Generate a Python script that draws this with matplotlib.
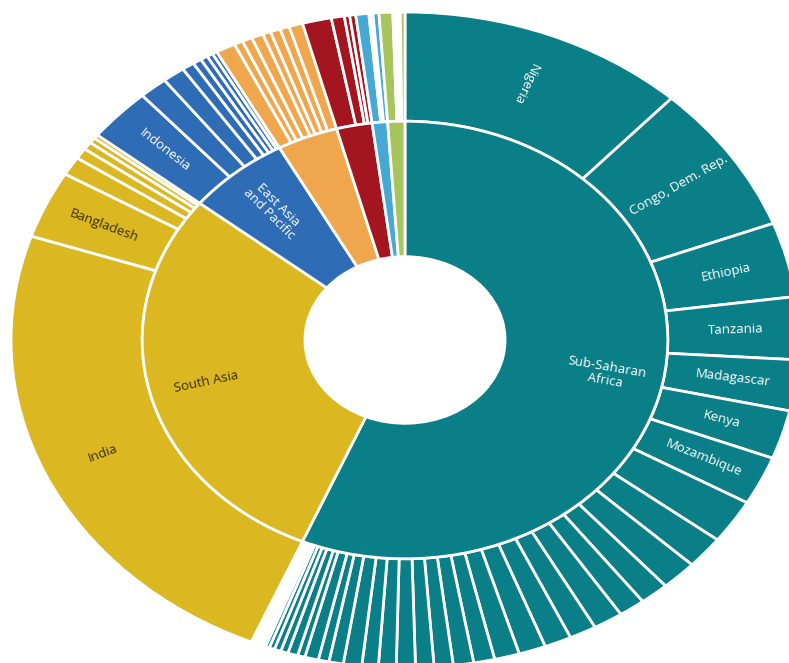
import numpy as np
import matplotlib.pyplot as plt

plt.rcParams['font.family'] = ['Open Sans', 'DejaVu Sans']

# Inner ring: regions, clockwise from 12 o'clock
region_names = ["Sub-Saharan\nAfrica", "South Asia", "East Asia\nand Pacific",
                "Latin America\nand Caribbean", "Middle East\nand North Africa",
                "Europe and\nCentral Asia", "Rest of\nthe world"]
region_colors = ["#0b7f87", "#dbb722", "#2e6cb5", "#f0a64c", "#a3151f", "#46a9d4", "#a7c55c"]
region_text_colors = ["white", "#3a2e08", "white", "white", "white", "white", "white"]
region_show_label = [True, True, True, False, False, False, False]

# Outer ring: countries (millions of extreme poor)
ssa_labels = ["Nigeria", "Congo, Dem. Rep.", "Ethiopia", "Tanzania", "Madagascar",
              "Kenya", "Mozambique"]
ssa_values = [86.3, 54.0, 26.8, 22.5, 18.3, 17.5, 17.5, 15.8, 11.6, 10.8, 8.7, 7.9,
              8.9, 8.1, 8.1, 8.1, 7.5, 6.3, 6.1, 5.7, 5.5, 5.7, 5.3, 4.9, 5.5, 4.3,
              3.2, 4.1, 2.2, 3.0, 2.2, 2.0, 1.6, 1.2, 0.9, 0.8, 0.7, 0.6, 0.5, 0.4,
              0.3, 0.2, 0.1]
sa_labels = ["India", "Bangladesh"]
sa_values = [173.4, 24.2, 6.7, 3.9, 2.8, 2.0, 1.4]
eap_labels = ["Indonesia"]
eap_values = [19.3, 8.5, 6.7, 3.7, 2.6, 2.2, 1.8, 1.4]
lac_values = [5.9, 2.6, 3.0, 3.5, 2.4, 3.0, 2.8, 4.1]
mena_values = [8.7, 3.9, 1.6, 1.8]
eca_values = [3.9, 0.6, 0.6, 1.8]
other_values = [4.1, 0.8, 0.7, 0.7, 1.4]

country_values = [ssa_values, sa_values, eap_values, lac_values, mena_values,
                  eca_values, other_values]
country_labels = [ssa_labels, sa_labels, eap_labels, [], [], [], []]

R_OUT = 1.0
R_MID = 0.667
R_HOLE = 0.254
# the picture is squashed vertically: px per unit in x and y
SX, SY = 394, 328
CX, CY = 405, 340
W, H = 789, 663

fig = plt.figure(figsize=(W / 100, H / 100), dpi=100)
ax = fig.add_axes([0, 0, 1, 1])

outer_vals, outer_cols, outer_labs, outer_tcol = [], [], [], []
for i, vals in enumerate(country_values):
    labs = country_labels[i]
    for j, v in enumerate(vals):
        outer_vals.append(v)
        outer_cols.append(region_colors[i])
        outer_labs.append(labs[j] if j < len(labs) else "")
        outer_tcol.append(region_text_colors[i])
region_totals = [sum(v) for v in country_values]

edge = dict(edgecolor="white", linewidth=2.0)
ax.pie(outer_vals, radius=R_OUT, startangle=90, counterclock=False,
       colors=outer_cols, wedgeprops=dict(width=R_OUT - R_MID, **edge))
ax.pie(region_totals, radius=R_MID, startangle=90, counterclock=False,
       colors=region_colors, wedgeprops=dict(width=R_MID - R_HOLE, **edge))

ax.set_aspect("auto")
ax.set_xlim(-CX / SX, (W - CX) / SX)
ax.set_ylim(-(H - CY) / SY, CY / SY)
ax.axis("off")


def put_labels(values, labels, colors, r, fontsize):
    total = sum(outer_vals)
    cum = np.cumsum([0] + list(values))
    for k, lab in enumerate(labels):
        if not lab:
            continue
        mid = np.deg2rad((cum[k] + cum[k + 1]) / 2 / total * 360)
        x, y = r * np.sin(mid), r * np.cos(mid)
        rot = np.degrees(np.arctan2(np.cos(mid) * SY, np.sin(mid) * SX))
        # steep labels near the top read inwards, the rest stay upright
        if rot > 60:
            rot -= 180
        elif rot <= -90:
            rot += 180
        ax.text(x, y, lab, rotation=rot, rotation_mode="anchor", ha="center",
                va="center", color=colors[k], fontsize=fontsize,
                linespacing=1.05)


put_labels(outer_vals, outer_labs, outer_tcol, 0.84, 9.5)
inner_labs = [n if s else "" for n, s in zip(region_names, region_show_label)]
put_labels(region_totals, inner_labs, region_text_colors, 0.52, 9.5)

fig.savefig("out.png", dpi=100)
